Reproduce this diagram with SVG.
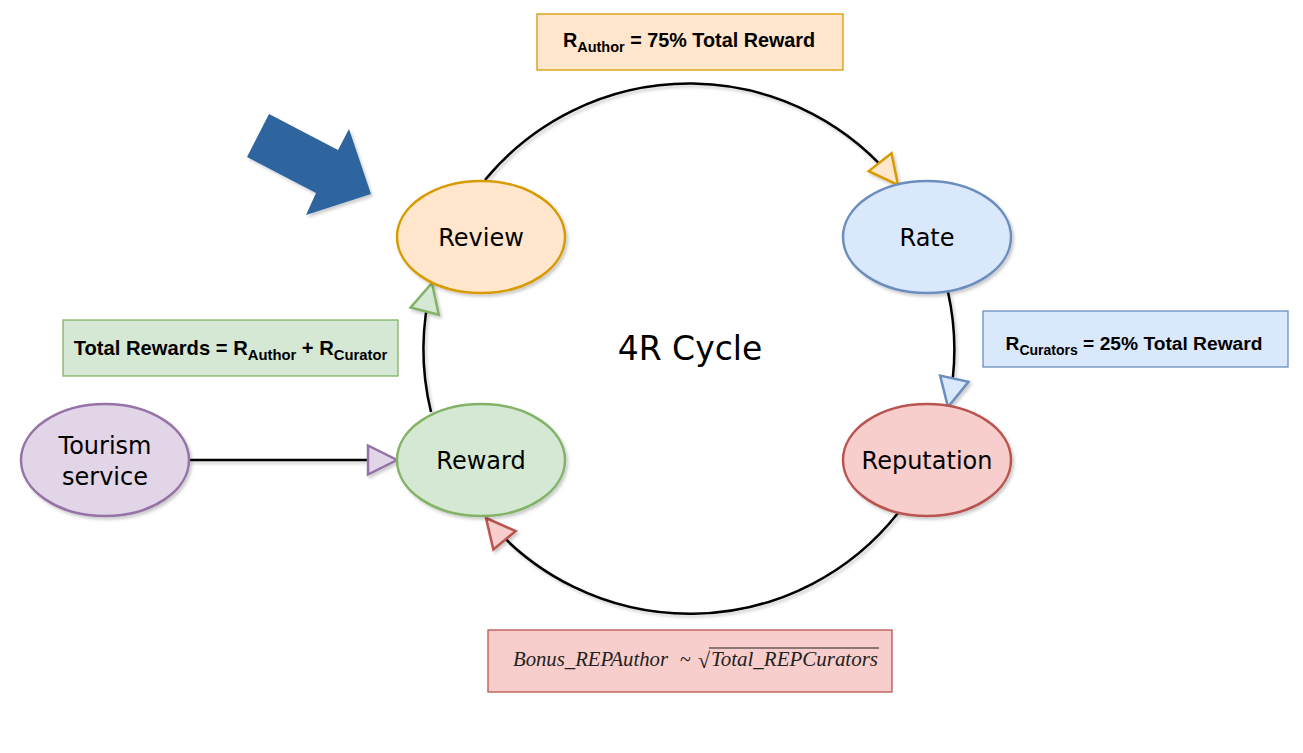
<svg xmlns="http://www.w3.org/2000/svg" width="1303" height="753" viewBox="0 0 1303 753">
<style>
.node{stroke-width:2.5;filter:url(#sh)}
.lbl{font-family:"DejaVu Sans",Verdana,sans-serif;font-size:24px;fill:#000;text-anchor:middle}
.box{stroke-width:1.3}
.bt{font-family:"Liberation Sans",Arial,sans-serif;font-weight:bold;fill:#000}
.conn{fill:none;stroke:#000;stroke-width:2.5}
</style>
<defs>
<filter id="sh" filterUnits="userSpaceOnUse" x="0" y="0" width="1303" height="753">
<feDropShadow dx="2" dy="2.5" stdDeviation="1.5" flood-color="#000" flood-opacity="0.2"/>
</filter>
<marker id="mOr" markerUnits="userSpaceOnUse" markerWidth="32" markerHeight="32" refX="29" refY="14.5" orient="auto" overflow="visible"><path d="M0,0 L29,14.5 L0,29 Z" fill="#ffe6cc" stroke="#d79b00" stroke-width="2.5"/></marker>
<marker id="mBl" markerUnits="userSpaceOnUse" markerWidth="32" markerHeight="32" refX="29" refY="14.5" orient="auto" overflow="visible"><path d="M0,0 L29,14.5 L0,29 Z" fill="#dae8fc" stroke="#6c8ebf" stroke-width="2.5"/></marker>
<marker id="mRd" markerUnits="userSpaceOnUse" markerWidth="32" markerHeight="32" refX="29" refY="14.5" orient="auto" overflow="visible"><path d="M0,0 L29,14.5 L0,29 Z" fill="#f8cecc" stroke="#b85450" stroke-width="2.5"/></marker>
<marker id="mGr" markerUnits="userSpaceOnUse" markerWidth="32" markerHeight="32" refX="29" refY="14.5" orient="auto" overflow="visible"><path d="M0,0 L29,14.5 L0,29 Z" fill="#d5e8d4" stroke="#82b366" stroke-width="2.5"/></marker>
<marker id="mPu" markerUnits="userSpaceOnUse" markerWidth="32" markerHeight="32" refX="29" refY="14.5" orient="auto" overflow="visible"><path d="M0,0 L29,14.5 L0,29 Z" fill="#e1d5e7" stroke="#9673a6" stroke-width="2.5"/></marker>
</defs>
<rect width="1303" height="753" fill="#ffffff"/>

<g id="connectors" filter="url(#sh)">
<path class="conn" d="M485,180 A265,265 0 0 1 898,185" marker-end="url(#mOr)"/>
<path class="conn" d="M948,292 A265,265 0 0 1 948,407" marker-end="url(#mBl)"/>
<path class="conn" d="M898,513 A265,265 0 0 1 486,518" marker-end="url(#mRd)"/>
<path class="conn" d="M431,412 A265,265 0 0 1 432,283" marker-end="url(#mGr)"/>
<path class="conn" d="M189,460 L397,460" marker-end="url(#mPu)"/>
</g>

<g id="pointer">
<polygon points="269,114 338,150 349,129 371,194 306,215 316,193 247,157" fill="#2e659f" filter="url(#sh)"/>
</g>

<g id="review">
<ellipse class="node" cx="481" cy="237" rx="84" ry="56" fill="#ffe6cc" stroke="#d79b00"/>
<text class="lbl" x="481" y="246">Review</text>
</g>
<g id="rate">
<ellipse class="node" cx="927" cy="237" rx="84" ry="56" fill="#dae8fc" stroke="#6c8ebf"/>
<text class="lbl" x="927" y="246">Rate</text>
</g>
<g id="reputation">
<ellipse class="node" cx="927" cy="460" rx="84" ry="56" fill="#f8cecc" stroke="#b85450"/>
<text class="lbl" x="927" y="469">Reputation</text>
</g>
<g id="reward">
<ellipse class="node" cx="481" cy="460" rx="84" ry="56" fill="#d5e8d4" stroke="#82b366"/>
<text class="lbl" x="481" y="469">Reward</text>
</g>
<g id="tourism">
<ellipse class="node" cx="105" cy="460" rx="84" ry="56" fill="#e1d5e7" stroke="#9673a6"/>
<text class="lbl" x="105" y="454">Tourism</text>
<text class="lbl" x="105" y="485">service</text>
</g>

<g id="cycle-title">
<text x="690" y="360" font-family="DejaVu Sans,Verdana,sans-serif" font-size="33" text-anchor="middle" fill="#000">4R Cycle</text>
</g>

<g id="author-box">
<rect class="box" x="537" y="14" width="306" height="56" fill="#ffe6cc" stroke="#d79b00"/>
<text class="bt" x="689" y="47" font-size="19.8" text-anchor="middle">R<tspan font-size="14.5" dy="5">Author</tspan><tspan dy="-5"> = 75% Total Reward</tspan></text>
</g>

<g id="curators-box">
<rect class="box" x="983" y="311" width="305" height="56" fill="#dae8fc" stroke="#6c8ebf"/>
<text class="bt" x="1134" y="350" font-size="19.2" text-anchor="middle">R<tspan font-size="14" dy="5">Curators</tspan><tspan dy="-5"> = 25% Total Reward</tspan></text>
</g>

<g id="total-box">
<rect class="box" x="63" y="320" width="335" height="56" fill="#d5e8d4" stroke="#82b366"/>
<text class="bt" x="230.5" y="355" font-size="20.2" text-anchor="middle">Total Rewards = R<tspan font-size="14.8" dy="5">Author</tspan><tspan dy="-5"> + R</tspan><tspan font-size="14.8" dy="5">Curator</tspan></text>
</g>

<g id="bonus-box">
<rect class="box" x="488" y="630" width="404" height="62" fill="#f8cecc" stroke="#b85450"/>
<text x="513" y="666" font-family="Liberation Serif,Times New Roman,serif" font-style="italic" font-size="20" fill="#222" textLength="155" lengthAdjust="spacingAndGlyphs">Bonus_REPAuthor</text>
<text x="680" y="666" font-family="Liberation Serif,Times New Roman,serif" font-size="20" fill="#222">~</text>
<text x="698" y="668" font-family="Liberation Serif,Times New Roman,serif" font-size="22" fill="#222">√</text>
<line x1="709" y1="648" x2="879" y2="648" stroke="#222" stroke-width="1"/>
<text x="711" y="666" font-family="Liberation Serif,Times New Roman,serif" font-style="italic" font-size="20" fill="#222" textLength="167" lengthAdjust="spacingAndGlyphs">Total_REPCurators</text>
</g>
</svg>
